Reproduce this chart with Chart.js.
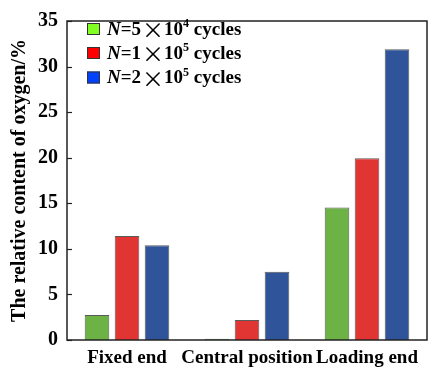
<!DOCTYPE html>
<html>
<head>
<meta charset="utf-8">
<script src="https://cdn.jsdelivr.net/npm/chart.js@4/dist/chart.umd.min.js"></script>
<style>
html,body{margin:0;padding:0;background:#fff;}
#wrap{width:437px;height:373px;position:relative;}
</style>
</head>
<body>
<div id="wrap"><canvas id="c" width="437" height="373"></canvas></div>
<script>
const categories = ['Fixed end', 'Central position', 'Loading end'];
const seriesN5e4 = [2.75, 0.15, 14.55];
const seriesN1e5 = [11.4, 2.2, 19.95];
const seriesN2e5 = [10.4, 7.5, 31.9];
const seriesMantissa = ['5', '1', '2'];
const seriesExponent = ['4', '5', '5'];
const yTicks = [0, 5, 10, 15, 20, 25, 30, 35];
const yTitle = 'The relative content of oxygen/%';

const barColors = ['#6cb244', '#e03532', '#2f5499'];
const legendColors = ['#80ff20', '#ff0000', '#0040ff'];
const serif = '"Liberation Serif", "Times New Roman", serif';

const framePlugin = {
  id: 'frame',
  afterDraw(chart) {
    const {ctx, chartArea: a} = chart;
    const y = chart.scales.y;
    ctx.save();
    ctx.strokeStyle = '#222';
    ctx.lineWidth = 1.5;
    ctx.strokeRect(a.left, a.top, a.right - a.left, a.bottom - a.top);
    ctx.lineWidth = 1.2;
    yTicks.forEach(v => {
      const py = Math.round(y.getPixelForValue(v)) + 0.5;
      ctx.beginPath();
      ctx.moveTo(a.left, py);
      ctx.lineTo(a.left + 5, py);
      ctx.stroke();
    });
    // legend
    const x0 = 87, rows = [29, 53, 77.5];
    for (let i = 0; i < 3; i++) {
      const cy = rows[i];
      ctx.fillStyle = legendColors[i];
      ctx.fillRect(x0, cy - 6, 13, 12);
      ctx.strokeStyle = '#333';
      ctx.lineWidth = 1;
      ctx.strokeRect(x0 + 0.5, cy - 5.5, 12, 11);
      ctx.fillStyle = '#000';
      ctx.textBaseline = 'middle';
      ctx.textAlign = 'left';
      let x = 107;
      ctx.font = 'italic bold 19px ' + serif;
      ctx.fillText('N', x, cy + 1); x += ctx.measureText('N').width;
      ctx.font = 'bold 19px ' + serif;
      ctx.fillText('=' + seriesMantissa[i], x, cy + 1); x += ctx.measureText('=' + seriesMantissa[i]).width;
      ctx.font = '22px "Noto Sans CJK SC", sans-serif';
      ctx.fillText('\u00d7', x + 1, cy + 1); x += 23;
      ctx.font = 'bold 19px ' + serif;
      ctx.fillText('10', x, cy + 1); x += ctx.measureText('10').width;
      ctx.font = 'bold 12px ' + serif;
      ctx.fillText(seriesExponent[i], x, cy - 5); x += ctx.measureText(seriesExponent[i]).width;
      ctx.font = 'bold 19px ' + serif;
      ctx.fillText(' cycles', x, cy + 1);
    }
    ctx.restore();
  }
};

new Chart(document.getElementById('c'), {
  type: 'bar',
  data: {
    labels: categories,
    datasets: [
      {label: 'N=5×10^4 cycles', data: seriesN5e4, backgroundColor: barColors[0]},
      {label: 'N=1×10^5 cycles', data: seriesN1e5, backgroundColor: barColors[1]},
      {label: 'N=2×10^5 cycles', data: seriesN2e5, backgroundColor: barColors[2]}
    ].map(d => Object.assign(d, {borderColor: '#5a5a5a', borderWidth: 1, barPercentage: 0.82, categoryPercentage: 0.75}))
  },
  options: {
    responsive: false,
    animation: false,
    devicePixelRatio: 1,
    layout: {padding: {top: 13, right: 10, left: 0, bottom: 0}},
    plugins: {legend: {display: false}, tooltip: {enabled: false}},
    scales: {
      x: {
        grid: {display: false, drawTicks: false},
        border: {display: false},
        ticks: {color: '#000', font: {family: serif, size: 19, weight: 'bold'}, padding: 7, maxRotation: 0, autoSkip: false},
        afterFit(s) { s.height = 33; }
      },
      y: {
        min: 0, max: 35,
        afterBuildTicks(s) { s.ticks = yTicks.map(v => ({value: v})); },
        grid: {display: false, drawTicks: false},
        border: {display: false},
        ticks: {color: '#000', font: {family: serif, size: 20, weight: 'bold'}, padding: 9},
        title: {display: true, text: yTitle, color: '#000', font: {family: serif, size: 20, weight: 'bold'}, padding: {top: 8, bottom: 0}},
        afterFit(s) { s.width = 67; }
      }
    }
  },
  plugins: [framePlugin]
});
</script>
</body>
</html>
